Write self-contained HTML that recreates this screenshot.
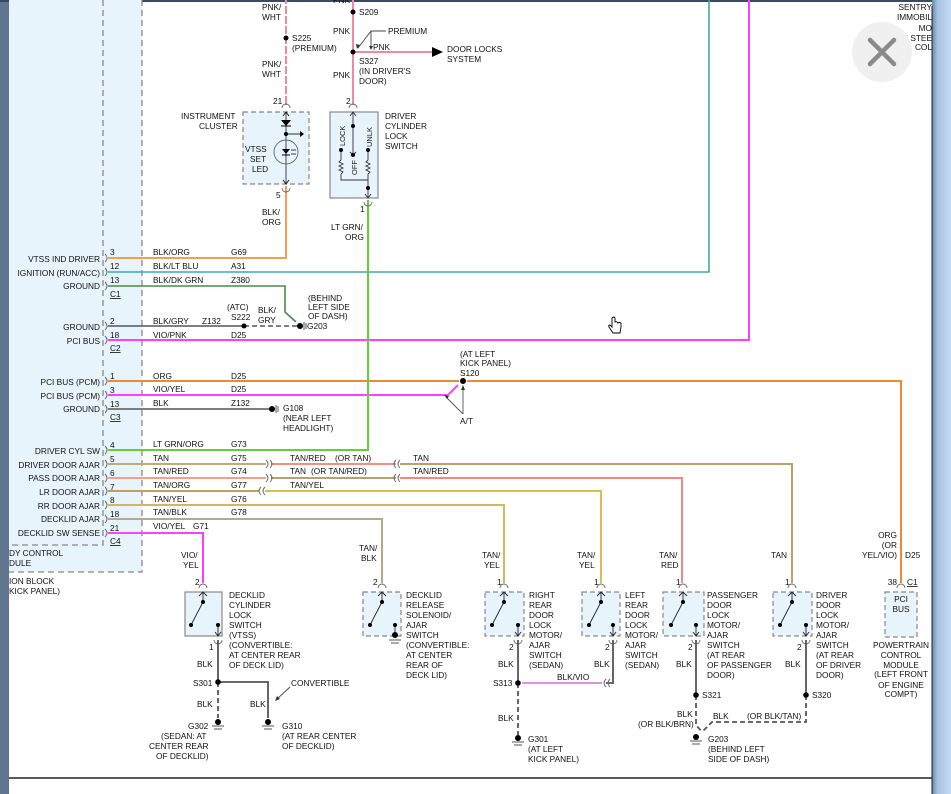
<!DOCTYPE html>
<html><head><meta charset="utf-8"><style>
html,body{margin:0;padding:0;background:#fff;width:951px;height:794px;overflow:hidden}
svg{display:block}
text{font-family:"Liberation Sans",Arial,sans-serif;font-size:8.3px;fill:#111}
</style></head><body>
<svg width="951" height="794" viewBox="0 0 951 794" xmlns="http://www.w3.org/2000/svg">
<defs>
<linearGradient id="rg" x1="0" x2="1"><stop offset="0" stop-color="#6a86a8"/><stop offset="0.3" stop-color="#a8c4e4"/><stop offset="1" stop-color="#c4dcf4"/></linearGradient>
</defs>
<rect x="0" y="0" width="951" height="794" fill="#fff"/>
<!-- frame -->
<rect x="0" y="0" width="9" height="794" fill="#5f7590"/>
<rect x="0" y="0" width="951" height="2" fill="#3a4a60"/>
<rect x="932" y="0" width="19" height="794" fill="url(#rg)"/>
<line x1="932" y1="6" x2="932" y2="794" stroke="#222" stroke-width="1"/>
<line x1="9" y1="778" x2="932" y2="778" stroke="#222" stroke-width="1.5"/>

<!-- left module -->
<rect x="9" y="0" width="133" height="572" fill="#e8f4fc"/>
<g stroke="#888" stroke-width="1.3" stroke-dasharray="6,4" fill="none">
<path d="M103 0 V545 H9"/>
<path d="M142 0 V572 H9"/>
</g>
<text x="9" y="556">DY CONTROL</text>
<text x="9" y="566">DULE</text>
<text x="9" y="584">ION BLOCK</text>
<text x="9" y="594">KICK PANEL)</text>

<!-- top-right text -->
<g text-anchor="end">
<text x="932" y="10">SENTRY</text>
<text x="932" y="20">IMMOBIL</text>
<text x="932" y="31">MO</text>
<text x="932" y="41">(ON STEE</text>
<text x="932" y="50">COL</text>
</g>

<!-- left labels -->
<g text-anchor="end">
<text x="100" y="262">VTSS IND DRIVER</text>
<text x="100" y="276">IGNITION (RUN/ACC)</text>
<text x="100" y="289">GROUND</text>
<text x="100" y="330">GROUND</text>
<text x="100" y="344">PCI BUS</text>
<text x="100" y="385">PCI BUS (PCM)</text>
<text x="100" y="399">PCI BUS (PCM)</text>
<text x="100" y="412">GROUND</text>
<text x="100" y="454">DRIVER CYL SW</text>
<text x="100" y="468">DRIVER DOOR AJAR</text>
<text x="100" y="481">PASS DOOR AJAR</text>
<text x="100" y="495">LR DOOR AJAR</text>
<text x="100" y="509">RR DOOR AJAR</text>
<text x="100" y="522">DECKLID AJAR</text>
<text x="100" y="536">DECKLID SW SENSE</text>
</g>
<g>
<text x="110" y="255">3</text><text x="110" y="269">12</text><text x="110" y="283">13</text>
<text x="110" y="324">2</text><text x="110" y="338">18</text>
<text x="110" y="379">1</text><text x="110" y="393">3</text><text x="110" y="407">13</text>
<text x="110" y="448">4</text><text x="110" y="462">5</text><text x="110" y="476">6</text><text x="110" y="490">7</text><text x="110" y="503">8</text><text x="110" y="517">18</text><text x="110" y="531">21</text>
<text x="110" y="297" text-decoration="underline">C1</text>
<text x="110" y="351" text-decoration="underline">C2</text>
<text x="110" y="420" text-decoration="underline">C3</text>
<text x="110" y="544" text-decoration="underline">C4</text>
</g>
<!-- connector glyphs -->
<g stroke="#666" stroke-width="0.9" fill="none">
<path d="M105 254 q4 4 0 8 M105 268 q4 4 0 8 M105 282 q4 4 0 8 M105 322 q4 4 0 8 M105 336 q4 4 0 8 M105 377 q4 4 0 8 M105 391 q4 4 0 8 M105 405 q4 4 0 8 M105 446 q4 4 0 8 M105 460 q4 4 0 8 M105 474 q4 4 0 8 M105 487 q4 4 0 8 M105 501 q4 4 0 8 M105 515 q4 4 0 8 M105 529 q4 4 0 8"/>
</g>
<!-- wire labels -->
<g>
<text x="153" y="255">BLK/ORG</text><text x="231" y="255">G69</text>
<text x="153" y="269">BLK/LT BLU</text><text x="231" y="269">A31</text>
<text x="153" y="283">BLK/DK GRN</text><text x="231" y="283">Z380</text>
<text x="153" y="324">BLK/GRY</text><text x="202" y="324">Z132</text>
<text x="153" y="338">VIO/PNK</text><text x="231" y="338">D25</text>
<text x="153" y="379">ORG</text><text x="231" y="379">D25</text>
<text x="153" y="392">VIO/YEL</text><text x="231" y="392">D25</text>
<text x="153" y="406">BLK</text><text x="231" y="406">Z132</text>
<text x="153" y="447">LT GRN/ORG</text><text x="231" y="447">G73</text>
<text x="153" y="461">TAN</text><text x="231" y="461">G75</text>
<text x="153" y="474">TAN/RED</text><text x="231" y="474">G74</text>
<text x="153" y="488">TAN/ORG</text><text x="231" y="488">G77</text>
<text x="153" y="502">TAN/YEL</text><text x="231" y="502">G76</text>
<text x="153" y="515">TAN/BLK</text><text x="231" y="515">G78</text>
<text x="153" y="529">VIO/YEL</text><text x="193" y="529">G71</text>
<text x="290" y="461">TAN/RED</text><text x="335" y="461">(OR TAN)</text>
<text x="290" y="474">TAN</text><text x="311" y="474">(OR TAN/RED)</text>
<text x="290" y="488">TAN/YEL</text>
<text x="413" y="461">TAN</text>
<text x="413" y="474">TAN/RED</text>
</g>

<!-- wires -->
<g fill="none" stroke-width="2">
<path d="M108 258 H286 V186" stroke="#f0a050"/>
<path d="M108 272 H709 V0" stroke="#40a8a8" stroke-width="1.6"/>
<path d="M108 286 H285 V312 L296 322" stroke="#4a8a4a" stroke-width="1.6"/>
<path d="M108 326 H244" stroke="#555" stroke-width="1.6"/>
<path d="M244 326 H298" stroke="#555" stroke-width="1.6" stroke-dasharray="5,3"/>
<path d="M108 340 H749 V0" stroke="#ff40ff"/>
<path d="M108 381 H459 M467 381 H901 V583" stroke="#f08a30"/>
<path d="M108 395 H448 L458 385" stroke="#ff40ff"/>
<path d="M108 409 H270" stroke="#555" stroke-width="1.6"/>
<path d="M108 450 H368 V200" stroke="#60d040"/>
<path d="M108 464 H266" stroke="#c4aa78"/>
<path d="M271 464 H396" stroke="#f09080"/>
<path d="M400 464 H792 V583" stroke="#b8a070"/>
<path d="M108 478 H266" stroke="#f0a090"/>
<path d="M271 478 H396" stroke="#b8a070"/>
<path d="M400 478 H682 V583" stroke="#f08a80"/>
<path d="M108 491 H259" stroke="#c0a060"/>
<path d="M265 491 H601 V583" stroke="#d8c050"/>
<path d="M108 505 H504 V583" stroke="#d0b860"/>
<path d="M108 519 H382 V583" stroke="#b8a888"/>
<path d="M108 533 H203 V583" stroke="#ff40ff"/>
</g>
<!-- splice connectors -->
<g stroke="#666" stroke-width="0.9" fill="none">
<path d="M266 460 q4 4 0 8 M270 460 q4 4 0 8 M266 474 q4 4 0 8 M270 474 q4 4 0 8"/>
<path d="M400 460 q-4 4 0 8 M396 460 q-4 4 0 8 M400 474 q-4 4 0 8 M396 474 q-4 4 0 8"/>
<path d="M265 487 q-4 4 0 8 M261 487 q-4 4 0 8"/>
</g>

<!-- G203 upper / S222 -->
<circle cx="244" cy="326" r="2.5" fill="#000"/>
<text x="227" y="310">(ATC)</text><text x="231" y="320">S222</text>
<text x="258" y="313">BLK/</text><text x="258" y="323">GRY</text>
<circle cx="300" cy="326" r="3" fill="#000"/>
<path d="M304 322 V330 M306 323 V329" stroke="#555"/>
<text x="307" y="329">G203</text>
<text x="308" y="301">(BEHIND</text><text x="308" y="310">LEFT SIDE</text><text x="308" y="319">OF DASH)</text>
<!-- G108 -->
<circle cx="272" cy="409" r="3" fill="#000"/>
<path d="M276 405 V413 M278 406 V412" stroke="#555"/>
<text x="283" y="411">G108</text><text x="283" y="421">(NEAR LEFT</text><text x="283" y="431">HEADLIGHT)</text>
<!-- S120 -->
<circle cx="463" cy="381" r="3" fill="#000"/>
<text x="460" y="357">(AT LEFT</text><text x="460" y="366">KICK PANEL)</text><text x="460" y="376">S120</text>
<path d="M463 414 V387 M463 414 L446 397" stroke="#555" stroke-width="0.9" fill="none"/>
<path d="M463 385 l-2 5 h4 z M444 395 l5 1 -2 3 z" fill="#333"/>
<text x="460" y="424">A/T</text>

<!-- top area -->
<path d="M286 0 V105" stroke="#f08aa0" stroke-width="2"/>
<path d="M286 0 V100" stroke="#fff" stroke-width="2" stroke-dasharray="2,8" stroke-dashoffset="-4"/>
<circle cx="286" cy="38" r="2.5" fill="#000"/>
<text x="292" y="41">S225</text><text x="292" y="51">(PREMIUM)</text>
<text x="262" y="10">PNK/</text><text x="262" y="20">WHT</text>
<text x="262" y="67">PNK/</text><text x="262" y="77">WHT</text>
<text x="273" y="104">21</text>
<text x="276" y="198">5</text>
<text x="262" y="215">BLK/</text><text x="262" y="225">ORG</text>

<path d="M353 0 V105" stroke="#f08aa0" stroke-width="2"/>
<path d="M353 52 H432" stroke="#f08aa0" stroke-width="2"/>
<path d="M432 47 l11 5 -11 5 z" fill="#000"/>
<circle cx="353" cy="12" r="2.5" fill="#000"/>
<circle cx="353" cy="52" r="2.5" fill="#000"/>
<text x="359" y="15">S209</text>
<text x="333" y="3">PNK</text>
<text x="333" y="34">PNK</text>
<text x="333" y="78">PNK</text>
<text x="373" y="50">PNK</text>
<text x="388" y="34">PREMIUM</text>
<path d="M386 31 H371 V49 M371 31 L358 48" stroke="#444" stroke-width="0.9" fill="none"/>
<path d="M369 46 h4 l-2 4z M356 44 l4 1 -3 4z" fill="#333"/>
<text x="359" y="64">S327</text><text x="359" y="74">(IN DRIVER'S</text><text x="359" y="84">DOOR)</text>
<text x="447" y="52">DOOR LOCKS</text><text x="447" y="62">SYSTEM</text>
<text x="346" y="104">2</text>
<text x="360" y="212">1</text>
<text x="331" y="230">LT GRN/</text><text x="345" y="240">ORG</text>

<!-- instrument cluster -->
<rect x="243" y="112" width="66" height="72" fill="#e8f4fc" stroke="#888" stroke-width="1.2" stroke-dasharray="5,3"/>
<path d="M282 108 a4 4 0 0 1 8 0 M282 188 a4 4 0 0 0 8 0" stroke="#666" fill="none" stroke-width="0.9"/>
<path d="M286 112 V184" stroke="#333" stroke-width="0.9"/>
<path d="M281 120 h10 l-5 6z" fill="#000"/><path d="M281 126 h10" stroke="#000"/>
<circle cx="286" cy="134" r="2" fill="#000"/>
<path d="M286 134 H302" stroke="#000" stroke-width="0.8"/><path d="M300 131 l4 3 -4 3z" fill="#000"/>
<circle cx="286" cy="152" r="12" fill="none" stroke="#666" stroke-width="0.9"/>
<path d="M282 149 h8 l-4 5z" fill="#000"/><path d="M282 155 h8" stroke="#000"/>
<path d="M291 150 h5 M291 154 h5" stroke="#000" stroke-width="0.8"/>
<path d="M283 180 l3 4 3 -4 M283 116 l3 -4 3 4" stroke="#000" fill="none" stroke-width="0.8"/>
<text x="181" y="119">INSTRUMENT</text><text x="199" y="129">CLUSTER</text>
<text x="245" y="152">VTSS</text><text x="250" y="162">SET</text><text x="252" y="172">LED</text>

<!-- driver cylinder switch -->
<rect x="330" y="112" width="48" height="86" fill="#e8f4fc" stroke="#888" stroke-width="1.2"/>
<path d="M349 108 a4 4 0 0 1 8 0 M364 202 a4 4 0 0 0 8 0" stroke="#666" fill="none" stroke-width="0.9"/>
<g stroke="#333" stroke-width="0.9" fill="none">
<path d="M353 112 V155 M350 116 l3 -4 3 4 M350 152 l3 3 3 -3"/>
<path d="M341 150 v10 l-2 2 4 2 -4 2 4 2 -4 2 4 2 -2 2 v6 H368"/>
<path d="M368 150 v10 l-2 2 4 2 -4 2 4 2 -4 2 4 2 -2 2 v6 V198 M365 194 l3 4 3 -4"/>
</g>
<circle cx="341" cy="150" r="2" fill="#000"/><circle cx="368" cy="150" r="2" fill="#000"/><circle cx="353" cy="126" r="2" fill="#000"/><circle cx="353" cy="155" r="2" fill="#000"/><circle cx="368" cy="188" r="2" fill="#000"/>
<text transform="translate(345 146) rotate(-90)" style="font-size:7.5px">LOCK</text>
<text transform="translate(372 147) rotate(-90)" style="font-size:7.5px">UNLK</text>
<text transform="translate(357 175) rotate(-90)" style="font-size:7.5px">OFF</text>
<text x="385" y="119">DRIVER</text><text x="385" y="129">CYLINDER</text><text x="385" y="139">LOCK</text><text x="385" y="149">SWITCH</text>

<!-- bottom switches -->
<g stroke="#888" stroke-width="1.2">
<rect x="185" y="592" width="37" height="44" fill="#e8f4fc"/>
<rect x="363" y="592" width="38" height="44" fill="#e8f4fc" stroke-dasharray="5,3"/>
<rect x="485" y="592" width="39" height="44" fill="#e8f4fc" stroke-dasharray="5,3"/>
<rect x="582" y="592" width="38" height="44" fill="#e8f4fc" stroke-dasharray="5,3"/>
<rect x="663" y="592" width="41" height="44" fill="#e8f4fc" stroke-dasharray="5,3"/>
<rect x="773" y="592" width="39" height="44" fill="#e8f4fc" stroke-dasharray="5,3"/>
<rect x="885" y="592" width="32" height="45" fill="#e8f4fc" stroke-dasharray="5,3"/>
</g>
<g stroke="#222" stroke-width="0.9" fill="none">
<path d="M203 592 V602 L191 625 M218 625 V636 M199 596 l4 -4 4 4 M215 632 l3 4 3 -4"/>
<path d="M382 592 V602 L370 625 M395 625 V636 M378 596 l4 -4 4 4"/>
<path d="M504 592 V602 L492 625 M518 625 V636 M500 596 l4 -4 4 4 M515 632 l3 4 3 -4"/>
<path d="M601 592 V602 L589 625 M613 625 V636 M597 596 l4 -4 4 4 M610 632 l3 4 3 -4"/>
<path d="M683 592 V602 L671 625 M696 625 V636 M679 596 l4 -4 4 4 M693 632 l3 4 3 -4"/>
<path d="M792 592 V602 L780 625 M806 625 V636 M788 596 l4 -4 4 4 M803 632 l3 4 3 -4"/>
</g>
<g fill="#000">
<circle cx="203" cy="602" r="2"/><circle cx="191" cy="625" r="2"/><circle cx="218" cy="625" r="2"/>
<circle cx="382" cy="602" r="2"/><circle cx="370" cy="625" r="2"/><circle cx="395" cy="625" r="2"/><circle cx="395" cy="635" r="3"/>
<circle cx="504" cy="602" r="2"/><circle cx="492" cy="625" r="2"/><circle cx="518" cy="625" r="2"/>
<circle cx="601" cy="602" r="2"/><circle cx="589" cy="625" r="2"/><circle cx="613" cy="625" r="2"/>
<circle cx="683" cy="602" r="2"/><circle cx="671" cy="625" r="2"/><circle cx="696" cy="625" r="2"/>
<circle cx="792" cy="602" r="2"/><circle cx="780" cy="625" r="2"/><circle cx="806" cy="625" r="2"/>
</g>
<path d="M389 640 h12 M391 643 h8" stroke="#555" stroke-width="0.9"/>
<g stroke="#666" stroke-width="0.9" fill="none">
<path d="M199 588 a4 4 0 0 1 8 0 M378 588 a4 4 0 0 1 8 0 M500 588 a4 4 0 0 1 8 0 M597 588 a4 4 0 0 1 8 0 M679 588 a4 4 0 0 1 8 0 M788 588 a4 4 0 0 1 8 0 M897 588 a4 4 0 0 1 8 0"/>
<path d="M214 640 a4 4 0 0 0 8 0 M514 640 a4 4 0 0 0 8 0 M609 640 a4 4 0 0 0 8 0 M692 640 a4 4 0 0 0 8 0 M802 640 a4 4 0 0 0 8 0"/>
</g>
<!-- bottom black wires -->
<g stroke="#555" stroke-width="1.8" fill="none">
<path d="M218 640 V682 H268 V718"/>
<path d="M218 682 V718" stroke-dasharray="5,3"/>
<path d="M518 640 V683"/>
<path d="M518 683 V735" stroke-dasharray="5,3"/>
<path d="M613 640 V683 H606"/>
<path d="M696 640 V695 M806 640 V695"/>
<path d="M696 695 V725 L702 732 M806 695 V722 H712 L702 732" stroke-dasharray="5,3"/>
</g>
<path d="M522 683 H602" stroke="#d070d0" stroke-width="1.6"/>
<path d="M606 679 q-4 4 0 8 M610 679 q-4 4 0 8" stroke="#666" fill="none" stroke-width="0.9"/>
<g fill="#000">
<circle cx="218" cy="682" r="2.8"/><circle cx="518" cy="683" r="2.8"/><circle cx="696" cy="695" r="2.8"/><circle cx="806" cy="695" r="2.8"/>
<circle cx="218" cy="722" r="3"/><circle cx="268" cy="722" r="3"/><circle cx="518" cy="738" r="3"/><circle cx="696" cy="737" r="3"/>
</g>
<path d="M212 726 h12 M214 729 h8 M262 726 h12 M264 729 h8 M512 742 h12 M514 745 h8 M690 741 h12 M692 744 h8" stroke="#555" stroke-width="0.9"/>
<path d="M290 687 L277 699" stroke="#444" stroke-width="0.9"/><path d="M275 701 l2 -5 3 3z" fill="#333"/>

<!-- bottom labels -->
<g>
<text x="181" y="558">VIO/</text><text x="183" y="568">YEL</text>
<text x="195" y="585">2</text><text x="209" y="650">1</text>
<text x="197" y="667">BLK</text><text x="193" y="686">S301</text><text x="197" y="707">BLK</text>
<text x="250" y="707">BLK</text>
<text x="291" y="686">CONVERTIBLE</text>
<text x="188" y="729">G302</text>
<text x="161" y="739">(SEDAN: AT</text><text x="149" y="749">CENTER REAR</text><text x="156" y="759">OF DECKLID)</text>
<text x="282" y="729">G310</text><text x="282" y="739">(AT REAR CENTER</text><text x="282" y="749">OF DECKLID)</text>
<text x="229" y="598">DECKLID</text><text x="229" y="608">CYLINDER</text><text x="229" y="618">LOCK</text><text x="229" y="628">SWITCH</text><text x="229" y="638">(VTSS)</text><text x="229" y="648">(CONVERTIBLE:</text><text x="229" y="658">AT CENTER REAR</text><text x="229" y="668">OF DECK LID)</text>

<text x="359" y="551">TAN/</text><text x="361" y="561">BLK</text><text x="373" y="585">2</text>
<text x="406" y="598">DECKLID</text><text x="406" y="608">RELEASE</text><text x="406" y="618">SOLENOID/</text><text x="406" y="628">AJAR</text><text x="406" y="638">SWITCH</text><text x="406" y="648">(CONVERTIBLE:</text><text x="406" y="658">AT CENTER</text><text x="406" y="668">REAR OF</text><text x="406" y="678">DECK LID)</text>

<text x="482" y="558">TAN/</text><text x="484" y="568">YEL</text><text x="497" y="585">1</text>
<text x="509" y="650">2</text><text x="498" y="667">BLK</text><text x="493" y="686">S313</text><text x="498" y="721">BLK</text>
<text x="528" y="742">G301</text><text x="528" y="752">(AT LEFT</text><text x="528" y="762">KICK PANEL)</text>
<text x="529" y="598">RIGHT</text><text x="529" y="608">REAR</text><text x="529" y="618">DOOR</text><text x="529" y="628">LOCK</text><text x="529" y="638">MOTOR/</text><text x="529" y="648">AJAR</text><text x="529" y="658">SWITCH</text><text x="529" y="668">(SEDAN)</text>
<text x="557" y="680">BLK/VIO</text>

<text x="577" y="558">TAN/</text><text x="579" y="568">YEL</text><text x="594" y="585">1</text>
<text x="605" y="650">2</text><text x="594" y="667">BLK</text>
<text x="625" y="598">LEFT</text><text x="625" y="608">REAR</text><text x="625" y="618">DOOR</text><text x="625" y="628">LOCK</text><text x="625" y="638">MOTOR/</text><text x="625" y="648">AJAR</text><text x="625" y="658">SWITCH</text><text x="625" y="668">(SEDAN)</text>

<text x="659" y="558">TAN/</text><text x="661" y="568">RED</text><text x="676" y="585">1</text>
<text x="688" y="650">2</text><text x="676" y="667">BLK</text>
<text x="702" y="698">S321</text>
<text x="677" y="717">BLK</text><text x="638" y="727">(OR BLK/BRN)</text>
<text x="713" y="719">BLK</text><text x="747" y="719">(OR BLK/TAN)</text>
<text x="708" y="742">G203</text><text x="708" y="752">(BEHIND LEFT</text><text x="708" y="762">SIDE OF DASH)</text>
<text x="707" y="598">PASSENGER</text><text x="707" y="608">DOOR</text><text x="707" y="618">LOCK</text><text x="707" y="628">MOTOR/</text><text x="707" y="638">AJAR</text><text x="707" y="648">SWITCH</text><text x="707" y="658">(AT REAR</text><text x="707" y="668">OF PASSENGER</text><text x="707" y="678">DOOR)</text>

<text x="771" y="558">TAN</text><text x="785" y="585">1</text>
<text x="797" y="650">2</text><text x="785" y="667">BLK</text>
<text x="812" y="698">S320</text>
<text x="816" y="598">DRIVER</text><text x="816" y="608">DOOR</text><text x="816" y="618">LOCK</text><text x="816" y="628">MOTOR/</text><text x="816" y="638">AJAR</text><text x="816" y="648">SWITCH</text><text x="816" y="658">(AT REAR</text><text x="816" y="668">OF DRIVER</text><text x="816" y="678">DOOR)</text>

<g text-anchor="end"><text x="897" y="538">ORG</text><text x="897" y="548">(OR</text><text x="897" y="558">YEL/VIO)</text><text x="897" y="585">38</text></g>
<text x="905" y="558">D25</text><text x="907" y="585" text-decoration="underline">C1</text>
<g text-anchor="middle"><text x="901" y="602">PCI</text><text x="901" y="612">BUS</text>
<text x="901" y="648">POWERTRAIN</text><text x="901" y="658">CONTROL</text><text x="901" y="668">MODULE</text><text x="901" y="677">(LEFT FRONT</text><text x="901" y="688">OF ENGINE</text><text x="901" y="697">COMPT)</text></g>
</g>

<!-- cursor -->
<path d="M612 318 v9 l-2 -2 q-2 0 -1 2 l4 6 h7 l1 -6 v-4 q-2 -1 -3 0 q-1 -2 -3 -1 v-4 q-1 -2 -3 0z" fill="#fff" stroke="#000" stroke-width="0.9"/>

<!-- close button -->
<circle cx="882" cy="52" r="30" fill="#f0f0f0"/>
<path d="M870 40 L894 64 M894 40 L870 64" stroke="#8a8a8a" stroke-width="4.5" stroke-linecap="round"/>
</svg>
</body></html>
